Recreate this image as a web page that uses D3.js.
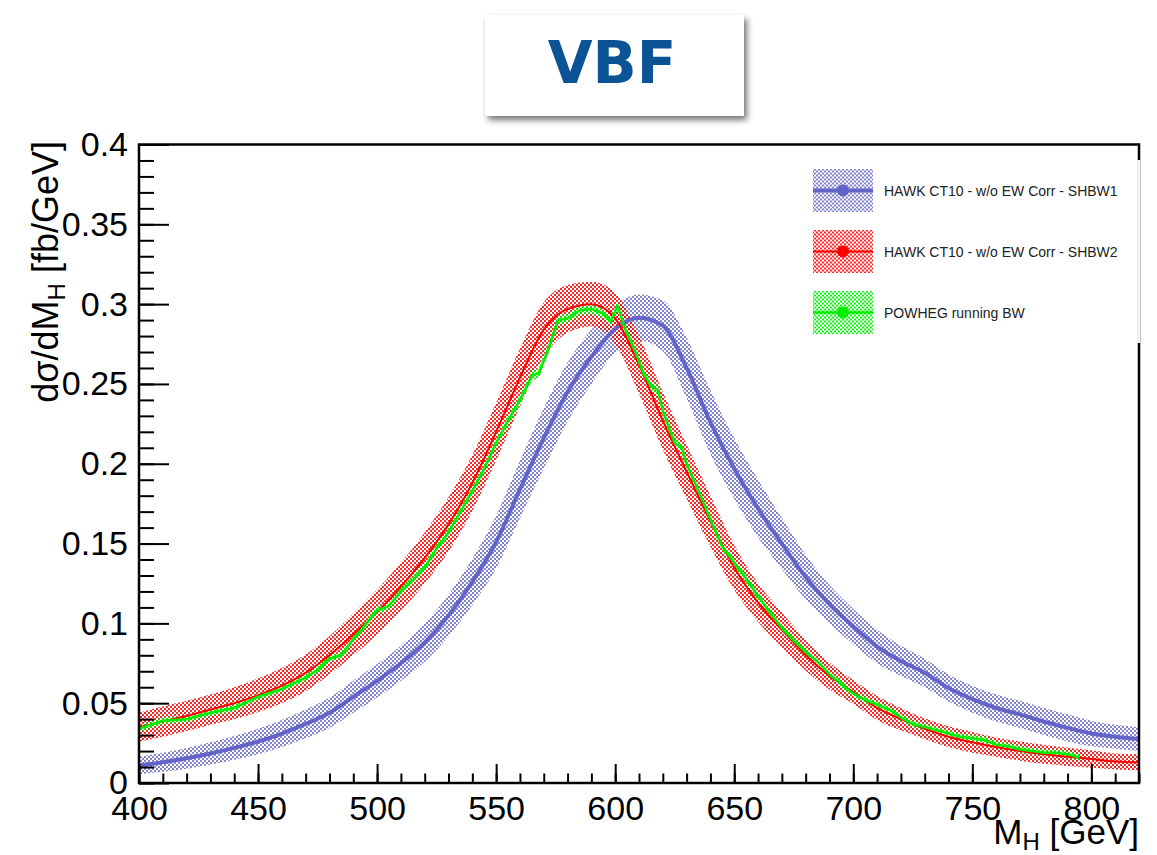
<!DOCTYPE html>
<html>
<head>
<meta charset="utf-8">
<script src="https://cdn.jsdelivr.net/npm/d3@7"></script>
<style>
  html, body { margin: 0; padding: 0; background: #fff; }
  svg { display: block; }
  text { font-family: "Liberation Sans", Arial, Helvetica, sans-serif; }
</style>
</head>
<body>
<svg id="chart"></svg>
<script>
// Higgs mass points (GeV) for the HAWK curves
const massGrid = [400, 410, 420, 430, 440, 450, 460, 470, 480, 490, 500, 510, 520, 530, 540,
  550, 560, 570, 580, 590, 600, 610, 620, 630, 640, 650, 660, 670, 680, 690, 700, 710, 720,
  730, 740, 750, 760, 770, 780, 790, 800, 810, 820]

// HAWK CT10 - w/o EW Corr - SHBW1 (fb/GeV) and band half-width
const shbw1 = [0.011, 0.013, 0.0155, 0.0185, 0.022, 0.026, 0.031, 0.037, 0.044, 0.054, 0.064,
  0.075, 0.088, 0.105, 0.126, 0.151, 0.184, 0.216, 0.245, 0.267, 0.2845, 0.2915, 0.2865, 0.260,
  0.226, 0.197, 0.172, 0.150, 0.129, 0.112, 0.098, 0.0855, 0.0765, 0.069, 0.0595, 0.0525,
  0.047, 0.043, 0.0385, 0.0345, 0.031, 0.029, 0.0275]
const shbw1Err = [0.0055, 0.006, 0.0065, 0.007, 0.0075, 0.008, 0.0085, 0.009, 0.0095, 0.010,
  0.0105, 0.011, 0.012, 0.013, 0.0145, 0.0165, 0.018, 0.019, 0.0185, 0.017, 0.015, 0.0145,
  0.016, 0.019, 0.020, 0.019, 0.018, 0.016, 0.014, 0.012, 0.011, 0.0105, 0.0095, 0.009,
  0.0085, 0.0085, 0.0085, 0.0085, 0.0085, 0.0085, 0.008, 0.0075, 0.0075]

// HAWK CT10 - w/o EW Corr - SHBW2
const shbw2 = [0.035, 0.0385, 0.042, 0.046, 0.050, 0.055, 0.061, 0.069, 0.080, 0.093, 0.107,
  0.123, 0.141, 0.162, 0.188, 0.220, 0.254, 0.284, 0.297, 0.300, 0.291, 0.262, 0.227, 0.195,
  0.164, 0.135, 0.113, 0.096, 0.080, 0.067, 0.057, 0.047, 0.040, 0.034, 0.029, 0.0255,
  0.0225, 0.020, 0.018, 0.0165, 0.015, 0.0135, 0.013]
const shbw2Err = [0.009, 0.0095, 0.0095, 0.0095, 0.010, 0.0105, 0.011, 0.0115, 0.012, 0.013,
  0.014, 0.015, 0.016, 0.017, 0.0175, 0.018, 0.018, 0.017, 0.015, 0.014, 0.016, 0.018, 0.018,
  0.017, 0.016, 0.014, 0.012, 0.011, 0.0095, 0.0085, 0.0075, 0.0075, 0.007, 0.0065, 0.0065,
  0.0065, 0.006, 0.006, 0.006, 0.0058, 0.0055, 0.005, 0.005]

// POWHEG running BW
const powhegMass = [400, 410, 420, 430, 440, 450, 460, 470, 475, 480, 485, 490, 500, 505, 510,
  515, 520, 525, 530, 535, 540, 545, 550, 555, 560, 565, 568, 572, 576, 580, 585, 590, 595,
  598, 601, 604, 608, 612, 615, 618, 620, 625, 628, 630, 635, 640, 645, 650, 655, 660, 665,
  670, 675, 680, 685, 690, 695, 700, 705, 710, 715, 720, 725, 730, 735, 740, 745, 750, 755,
  760, 765, 770, 775, 780, 785, 790, 795]
const powhegVal = [0.034, 0.039, 0.040, 0.044, 0.047, 0.054, 0.059, 0.066, 0.071, 0.078,
  0.080, 0.090, 0.108, 0.111, 0.120, 0.127, 0.135, 0.147, 0.157, 0.170, 0.183, 0.197, 0.213,
  0.227, 0.240, 0.255, 0.257, 0.272, 0.290, 0.291, 0.296, 0.297, 0.294, 0.289, 0.299, 0.285,
  0.272, 0.256, 0.249, 0.246, 0.233, 0.213, 0.210, 0.200, 0.183, 0.165, 0.148, 0.138, 0.128,
  0.117, 0.107, 0.097, 0.089, 0.082, 0.076, 0.068, 0.062, 0.056, 0.052, 0.049, 0.046, 0.041,
  0.037, 0.035, 0.033, 0.031, 0.029, 0.028, 0.027, 0.024, 0.023, 0.021, 0.020, 0.019, 0.019,
  0.018, 0.016]
const powhegErr = [0.002, 0.002, 0.002, 0.002, 0.002, 0.002, 0.002, 0.002, 0.002, 0.002,
  0.002, 0.002, 0.0025, 0.0025, 0.0025, 0.0025, 0.0025, 0.0025, 0.0025, 0.0025, 0.0025,
  0.0025, 0.0025, 0.003, 0.003, 0.003, 0.003, 0.003, 0.003, 0.003, 0.003, 0.003, 0.003,
  0.003, 0.003, 0.003, 0.003, 0.003, 0.003, 0.003, 0.003, 0.003, 0.003, 0.0025, 0.0025,
  0.0025, 0.0025, 0.0025, 0.0025, 0.0025, 0.002, 0.002, 0.002, 0.002, 0.002, 0.002, 0.002,
  0.002, 0.002, 0.002, 0.002, 0.002, 0.002, 0.002, 0.002, 0.002, 0.002, 0.002, 0.002, 0.002,
  0.002, 0.002, 0.002, 0.002, 0.002, 0.002, 0.002]

const legendLabels = ['HAWK CT10 - w/o EW Corr - SHBW1', 'HAWK CT10 - w/o EW Corr - SHBW2', 'POWHEG running BW']
const xTicks = [400, 450, 500, 550, 600, 650, 700, 750, 800]
const yTicks = [0, 0.05, 0.1, 0.15, 0.2, 0.25, 0.3, 0.35, 0.4]

const width = 1157
const height = 855
const margin = { left: 139, right: 1139, top: 144.5, bottom: 783 }

const svg = d3.select('#chart')
  .attr('width', width)
  .attr('height', height)

const defs = svg.append('defs')

// checkerboard fill like ROOT's dotted fill style
const makePattern = (id, color, opacity) => {
  const p = defs.append('pattern')
    .attr('id', id)
    .attr('width', 4)
    .attr('height', 4)
    .attr('patternUnits', 'userSpaceOnUse')
  p.append('rect').attr('x', 0).attr('y', 0).attr('width', 2).attr('height', 2)
    .attr('fill', color).attr('fill-opacity', opacity)
  p.append('rect').attr('x', 2).attr('y', 2).attr('width', 2).attr('height', 2)
    .attr('fill', color).attr('fill-opacity', opacity)
}
makePattern('pat-blue', '#6464c8', 0.8)
makePattern('pat-red', '#ff0000', 0.85)
makePattern('pat-green', '#00ee00', 0.9)

const shadow = defs.append('filter')
  .attr('id', 'shadow')
  .attr('x', '-10%').attr('y', '-20%')
  .attr('width', '130%').attr('height', '150%')
shadow.append('feDropShadow')
  .attr('dx', 3).attr('dy', 4)
  .attr('stdDeviation', 3)
  .attr('flood-color', '#000')
  .attr('flood-opacity', 0.55)

defs.append('clipPath').attr('id', 'plot-clip')
  .append('rect')
  .attr('x', margin.left).attr('y', margin.top)
  .attr('width', margin.right - margin.left)
  .attr('height', margin.bottom - margin.top)

const x = d3.scaleLinear().domain([400, 820]).range([margin.left, margin.right])
const y = d3.scaleLinear().domain([0, 0.4]).range([margin.bottom, margin.top])

const series = [
  { key: 'blue', color: '#6464c8', lw: 4, curve: d3.curveMonotoneX,
    pts: massGrid.map((m, i) => ({ m, v: shbw1[i], e: shbw1Err[i] })) },
  { key: 'red', color: '#ff0000', lw: 2, curve: d3.curveMonotoneX,
    pts: massGrid.map((m, i) => ({ m, v: shbw2[i], e: shbw2Err[i] })) },
  { key: 'green', color: '#00ee00', lw: 2.5, curve: d3.curveLinear,
    pts: powhegMass.map((m, i) => ({ m, v: powhegVal[i], e: powhegErr[i] })) }
]

const plot = svg.append('g').attr('clip-path', 'url(#plot-clip)')

series.forEach(s => {
  const band = d3.area()
    .curve(s.curve)
    .x(d => x(d.m))
    .y0(d => y(d.v - d.e))
    .y1(d => y(d.v + d.e))
  plot.append('path')
    .attr('d', band(s.pts))
    .attr('fill', `url(#pat-${s.key})`)
})

series.forEach(s => {
  const line = d3.line()
    .curve(s.curve)
    .x(d => x(d.m))
    .y(d => y(d.v))
  plot.append('path')
    .attr('d', line(s.pts))
    .attr('fill', 'none')
    .attr('stroke', s.color)
    .attr('stroke-width', s.lw)
    .attr('stroke-linejoin', 'round')
})

// axes: ticks drawn inside the frame, ROOT style
const xAxisMinor = d3.axisBottom(x).tickValues(massGrid).tickSize(-9.5).tickSizeOuter(0).tickFormat('')
const xAxisMajor = d3.axisBottom(x).tickValues(xTicks).tickSize(-19).tickSizeOuter(0)
  .tickPadding(13).tickFormat(d3.format('d'))

const yMinor = d3.range(0, 41).map(i => i / 100)
const yAxisMinor = d3.axisLeft(y).tickValues(yMinor).tickSize(-15).tickSizeOuter(0).tickFormat('')
const yAxisMajor = d3.axisLeft(y).tickValues(yTicks).tickSize(-30).tickSizeOuter(0)
  .tickPadding(11).tickFormat(d => d === 0 ? '0' : d3.format('~g')(d))

const styleAxis = g => {
  g.select('.domain').remove()
  g.selectAll('line').attr('stroke', '#000').attr('stroke-width', 2)
  g.selectAll('text')
    .attr('fill', '#000')
    .style('font-family', '"Liberation Sans", Arial, sans-serif')
    .style('font-size', '34px')
}

svg.append('g').attr('transform', `translate(0,${margin.bottom})`).call(xAxisMinor).call(styleAxis)
svg.append('g').attr('transform', `translate(0,${margin.bottom})`).call(xAxisMajor).call(styleAxis)
svg.append('g').attr('transform', `translate(${margin.left},0)`).call(yAxisMinor).call(styleAxis)
svg.append('g').attr('transform', `translate(${margin.left},0)`).call(yAxisMajor).call(styleAxis)

// frame
svg.append('rect')
  .attr('x', margin.left).attr('y', margin.top)
  .attr('width', margin.right - margin.left)
  .attr('height', margin.bottom - margin.top)
  .attr('fill', 'none')
  .attr('stroke', '#000')
  .attr('stroke-width', 2.5)

// axis titles
const yTitle = svg.append('text')
  .attr('transform', 'translate(58,141) rotate(-90)')
  .attr('text-anchor', 'end')
  .style('font-size', '36px')
  .attr('fill', '#000')
yTitle.append('tspan').text('dσ/dM')
yTitle.append('tspan').attr('dy', 7).style('font-size', '24px').text('H')
yTitle.append('tspan').attr('dy', -7).text(' [fb/GeV]')

const xTitle = svg.append('text')
  .attr('x', margin.right)
  .attr('y', 844)
  .attr('text-anchor', 'end')
  .style('font-size', '35px')
  .attr('fill', '#000')
xTitle.append('tspan').text('M')
xTitle.append('tspan').attr('dy', 6).style('font-size', '24px').text('H')
xTitle.append('tspan').attr('dy', -6).text(' [GeV]')

// legend
const legend = svg.append('g')
legend.append('rect')
  .attr('x', 805).attr('y', 160)
  .attr('width', 335).attr('height', 183)
  .attr('fill', '#fff')
legend.append('line')
  .attr('x1', 1138).attr('x2', 1138)
  .attr('y1', 160).attr('y2', 343)
  .attr('stroke', '#ddd').attr('stroke-width', 1)

const rowY = [190.5, 251.5, 312.5]
series.forEach((s, i) => {
  const row = legend.append('g').attr('transform', `translate(0,${rowY[i]})`)
  row.append('rect')
    .attr('x', 813).attr('y', -21.5)
    .attr('width', 60).attr('height', 43)
    .attr('fill', `url(#pat-${s.key})`)
  row.append('line')
    .attr('x1', 813).attr('x2', 873)
    .attr('y1', 0).attr('y2', 0)
    .attr('stroke', s.color)
    .attr('stroke-width', s.lw)
  row.append('circle')
    .attr('cx', 843).attr('cy', 0).attr('r', 6)
    .attr('fill', s.color)
  row.append('text')
    .attr('x', 884).attr('y', 0)
    .attr('dominant-baseline', 'central')
    .style('font-size', '14px')
    .attr('fill', '#222')
    .text(legendLabels[i])
})

// title box
svg.append('rect')
  .attr('x', 485).attr('y', 15)
  .attr('width', 259).attr('height', 101)
  .attr('fill', '#fff')
  .attr('filter', 'url(#shadow)')
svg.append('text')
  .attr('x', 612).attr('y', 83)
  .attr('text-anchor', 'middle')
  .style('font-family', '"DejaVu Sans", "Open Sans", sans-serif')
  .style('font-weight', 700)
  .style('font-size', '58px')
  .attr('fill', '#0b5394')
  .text('VBF')
</script>
</body>
</html>
